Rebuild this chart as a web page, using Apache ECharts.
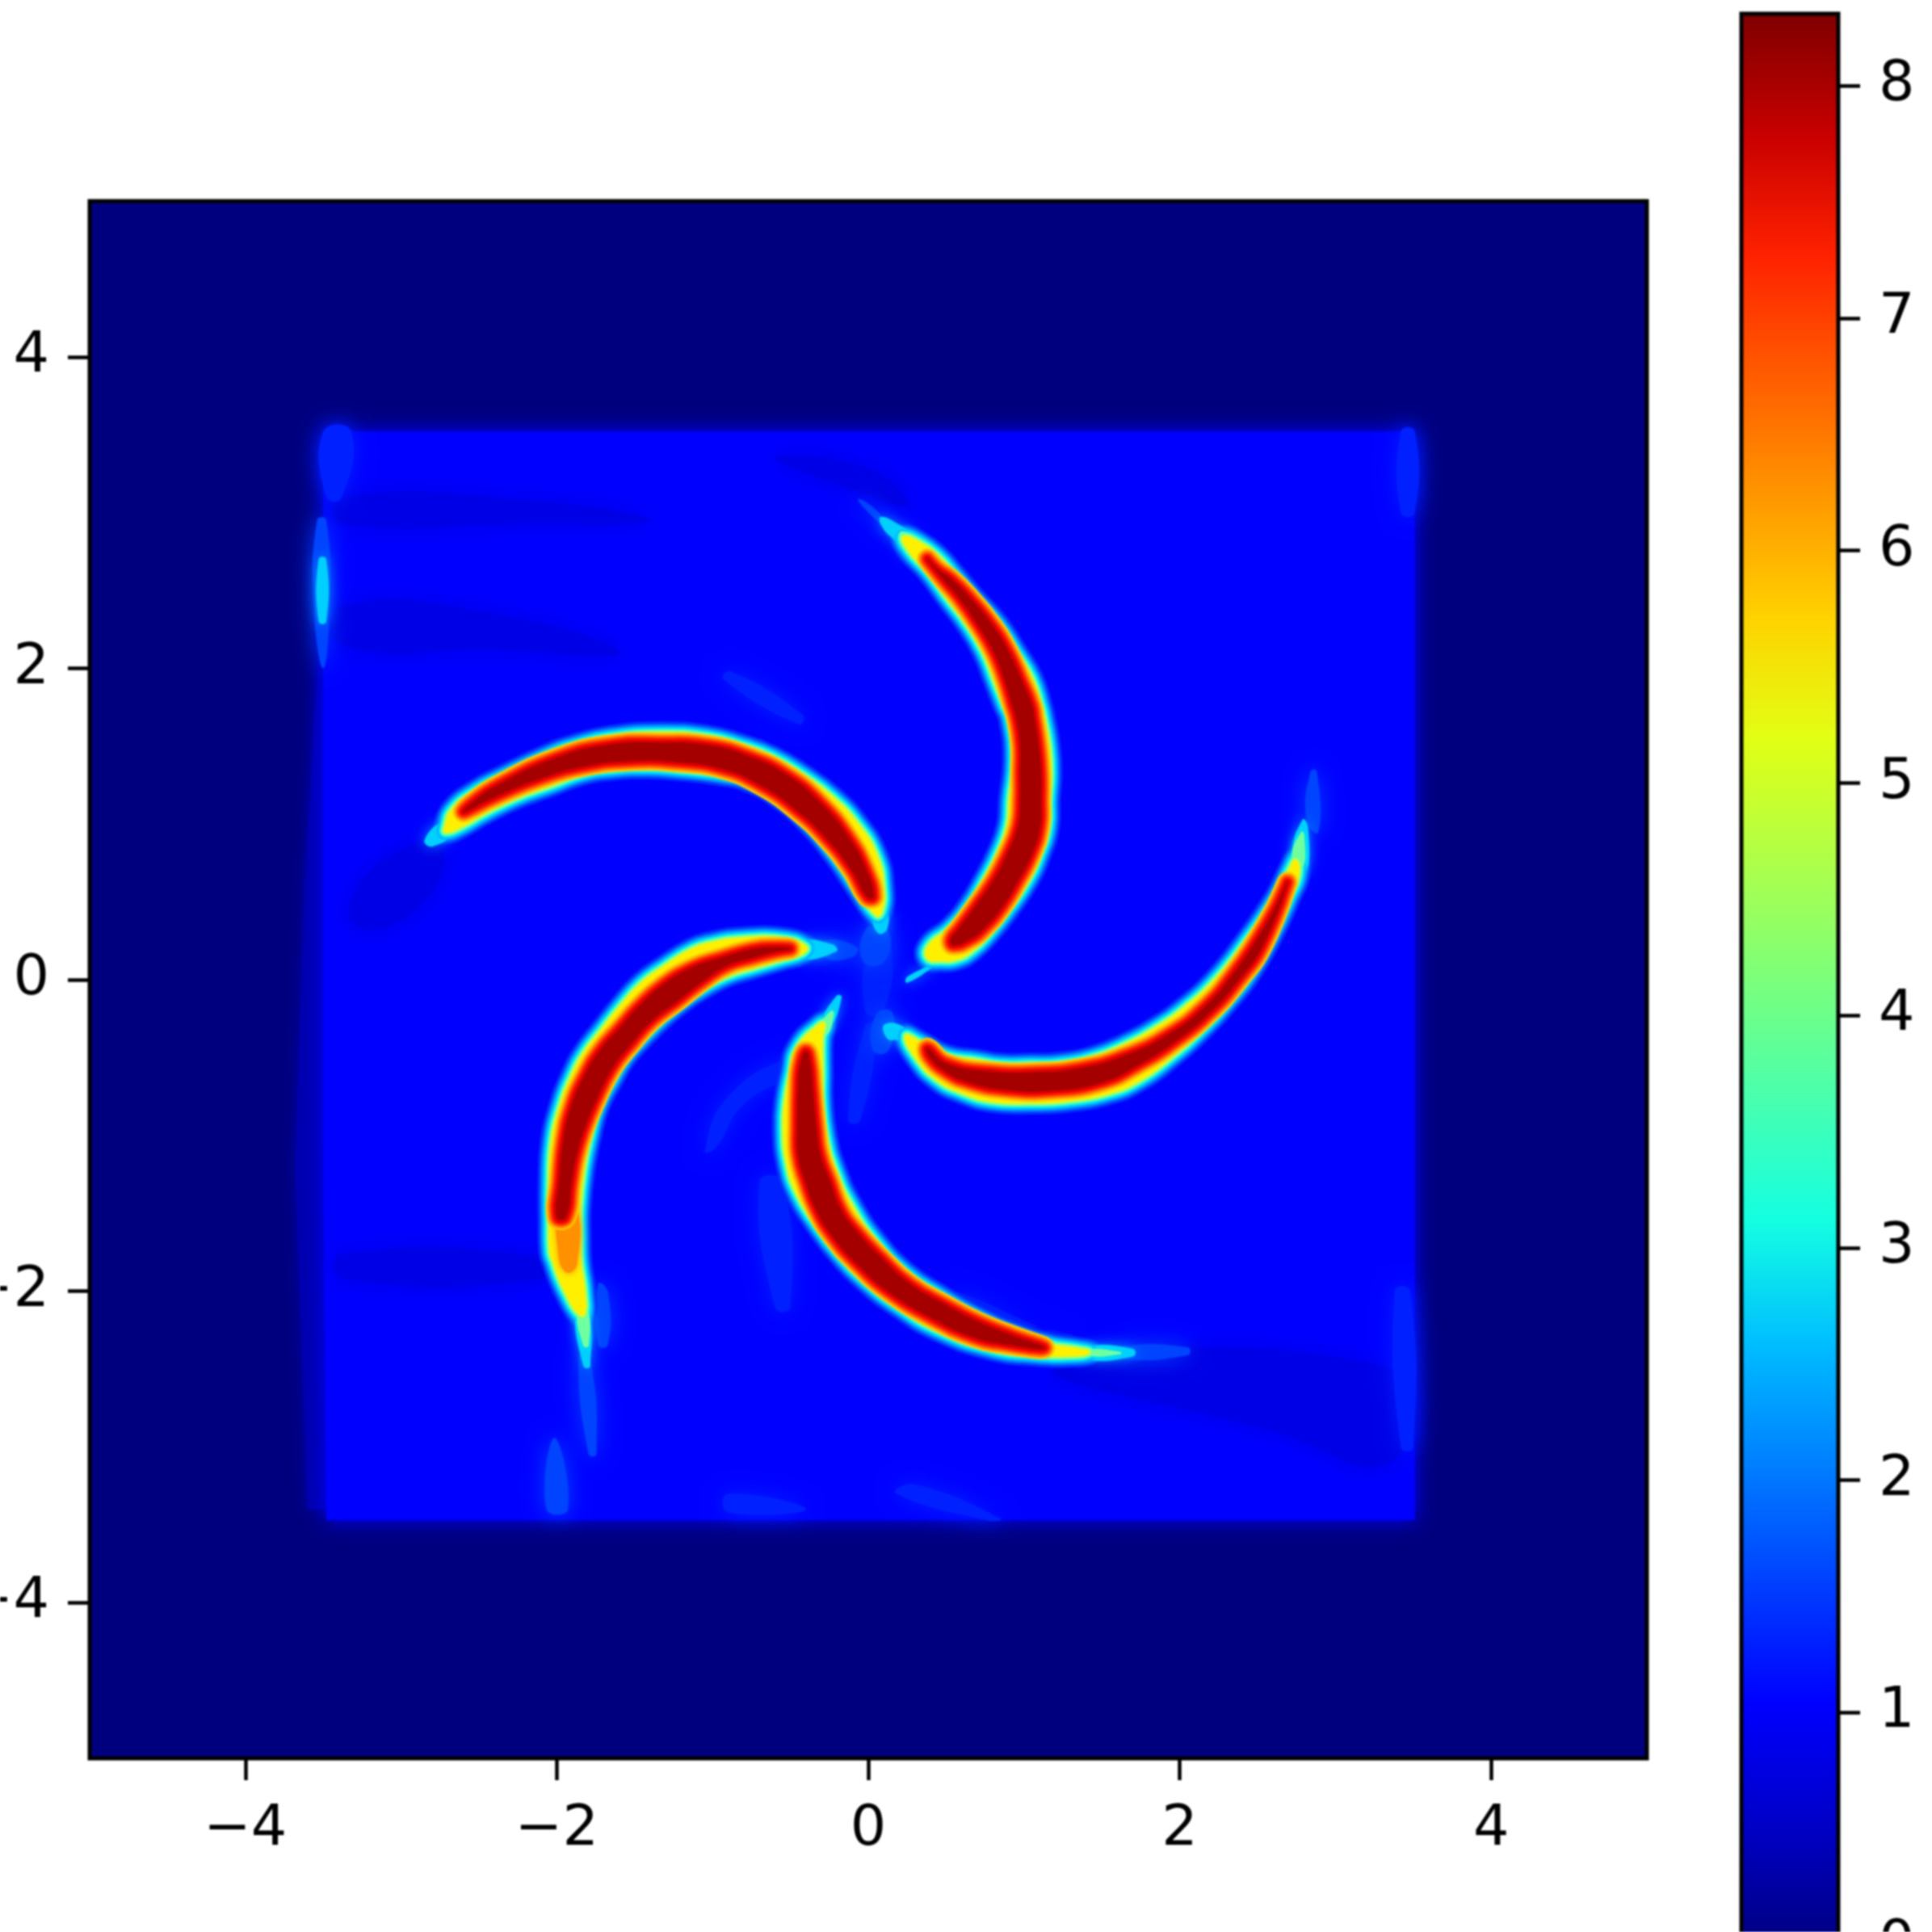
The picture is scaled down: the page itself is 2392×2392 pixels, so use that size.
<!DOCTYPE html>
<html><head><meta charset="utf-8">
<script src="https://cdn.jsdelivr.net/npm/echarts@6/dist/echarts.min.js"></script>
<style>html,body{margin:0;background:#fff}#c{width:2392px;height:2392px;filter:blur(1.2px)}</style>
</head><body><div id="c"></div>
<script>
// Tick labels
const xTicks=[-4,-2,0,2,4];
const yTicks=[-4,-2,0,2,4];
const barTicks=[0,1,2,3,4,5,6,7,8];
const barMax=8.31;
// Jet colours
const jet=['#00007f','#0000c8','#0000ff','#0040ff','#0080ff','#00bfff','#14ffe2','#48ffaf','#7bff7b','#afff48','#e2ff14','#ffd200','#ff9700','#ff5c00','#ff2100','#c80000','#7f0000'];

// Region of the flow (about level 1)
const regionEdge=[[-3.5,3.52],[3.51,3.52],[3.51,-3.47],[-3.48,-3.47],[-3.5,-1],[-3.5,1.5]];
const dimLeft=[[-3.68,-1.2],[-3.62,0.6],[-3.5,2.6],[-3.4,-3.4],[-3.6,-3.4]];
// Slightly lower bands (under level 1)
const lowBands=[
 [[-3.38,3.10],[-2.2,3.08],[-1.4,2.95],[-2.2,2.93],[-3.38,2.93]],
 [[-3.38,2.4],[-2.4,2.35],[-1.6,2.1],[-2.4,2.12],[-3.38,2.15]],
 [[-0.6,3.35],[0,3.28],[0.25,3.05],[-0.1,3.15]],
 [[-3.38,-1.76],[-2.1,-1.78],[-2.1,-1.92],[-3.38,-1.92]],
 [[1.2,-2.5],[3.35,-2.5],[3.35,-3.1],[2.6,-2.9]],
 [[-3.2,0.7],[-2.75,0.85],[-2.9,0.45],[-3.3,0.35]]
];
// Faint streaks (about level 1.2)
const faintStreaks=[
 [[-0.93,1.93],[-0.45,1.64],[-0.42,1.70],[-0.88,1.98]],
 [[0.02,0.25],[0.14,0.25],[0.1,-0.2],[-0.02,-0.2]],
 [[3.42,3.52],[3.51,3.52],[3.51,3.0],[3.42,3.0]],
 [[3.38,-2.0],[3.48,-2.0],[3.5,-3.0],[3.42,-3.0]],
 [[-0.9,-3.30],[-0.4,-3.40],[-0.9,-3.42]],
 [[0.30,-3.24],[0.85,-3.46],[0.75,-3.47],[0.18,-3.30]],
 [[0.05,-0.3],[-0.05,-0.9],[-0.13,-0.9],[-0.02,-0.3]],
 [[-0.5,-0.5],[-0.9,-0.75],[-1.05,-1.1],[-0.98,-1.08],[-0.8,-0.8],[-0.45,-0.58]],
 [[-0.7,-1.3],[-0.6,-2.1],[-0.5,-2.1],[-0.55,-1.3]],
 [[0.55,-2.0],[1.15,-2.25],[1.3,-2.28],[0.6,-2.1]],
 [[-3.50,3.52],[-3.32,3.52],[-3.38,3.1],[-3.48,3.1]]
];
// Brighter streaks (about level 1.5)
const azureStreaks=[
 [[-3.54,2.95],[-3.48,2.95],[-3.46,2.4],[-3.50,2.0],[-3.56,2.4]],
 [[-0.065,3.086],[0.054,3.013],[0.132,2.894],[0.039,2.962]],
 [[2.814,1.027],[2.840,1.338],[2.881,1.338],[2.892,0.949]],
 [[0.054,-0.218],[0.158,-0.218],[0.132,-0.451],[0.029,-0.451]],
 [[-0.013,0.327],[0.122,0.327],[0.106,0.119],[-0.034,0.119]],
 [[-1.859,-2.422],[-1.787,-2.422],[-1.745,-3.045],[-1.797,-3.045]],
 [[-1.735,-1.955],[-1.672,-2.007],[-1.672,-2.344],[-1.735,-2.344]],
 [[-2.015,-2.941],[-1.927,-3.397],[-2.067,-3.397]],
 [[-0.283,0.249],[-0.075,0.213],[-0.101,0.145],[-0.283,0.145]],
 [[1.611,-2.360],[2.051,-2.360],[2.051,-2.412],[1.611,-2.433]]
];
// Arm tails (about level 3)
const armTails=[
 [[0.080,2.972],[0.184,2.930],[0.314,2.827],[0.262,2.713],[0.184,2.806],[0.091,2.904]],
 [[2.726,0.794],[2.788,1.027],[2.825,0.975],[2.810,0.690]],
 [[0.106,-0.285],[0.246,-0.316],[0.298,-0.436],[0.194,-0.389],[0.122,-0.379]],
 [[-2.850,0.897],[-2.731,1.011],[-2.669,0.948],[-2.798,0.856]],
 [[0.030,0.431],[0.110,0.456],[0.122,0.327],[0.060,0.301]],
 [[-1.880,-2.100],[-1.805,-2.100],[-1.785,-2.480],[-1.830,-2.480]],
 [[-0.438,0.245],[-0.231,0.228],[-0.205,0.181],[-0.438,0.135]],
 [[-0.309,-0.296],[-0.205,-0.104],[-0.170,-0.114],[-0.255,-0.322]],
 [[1.377,-2.360],[1.700,-2.370],[1.700,-2.420],[1.377,-2.435]],
 [[0.25,0.02],[0.52,0.14],[0.45,0.10],[0.25,-0.02]],
 [[-3.53,2.7],[-3.48,2.7],[-3.48,2.3],[-3.53,2.3]]
];
// Arm tips fading to about level 4.5
const armTipGlow=[
 [[0.22,2.88],[0.35,2.80],[0.30,2.74],[0.20,2.84]],
 [[2.72,0.78],[2.78,0.95],[2.80,0.93],[2.79,0.72]],
 [[1.40,-2.375],[1.62,-2.39],[1.62,-2.405],[1.40,-2.415]],
 [[-0.33,-0.33],[-0.24,-0.2],[-0.22,-0.22],[-0.27,-0.36]],
 [[-1.87,-2.1],[-1.805,-2.1],[-1.795,-2.35],[-1.83,-2.35]]
];
// Arm contours at about level 5.5
const armTopOuter=[[0.340,2.801],[0.454,2.713],[0.532,2.624],[0.677,2.453],[0.832,2.282],[0.947,2.106],[1.050,1.935],[1.107,1.763],[1.128,1.675],[1.159,1.504],[1.170,1.328],[1.159,1.157],[1.154,0.985],[1.102,0.809],[1.024,0.638],[0.910,0.467],[0.770,0.290],[0.666,0.187],[0.573,0.135],[0.469,0.124],[0.381,0.140],[0.392,0.223],[0.521,0.327],[0.641,0.467],[0.744,0.638],[0.832,0.809],[0.895,0.985],[0.910,1.157],[0.936,1.416],[0.910,1.675],[0.874,1.763],[0.807,1.935],[0.739,2.106],[0.635,2.282],[0.506,2.453],[0.381,2.624],[0.262,2.754],[0.226,2.842]];
const armRightOuter=[[0.241,-0.363],[0.329,-0.399],[0.500,-0.488],[0.692,-0.519],[0.848,-0.545],[1.040,-0.545],[1.232,-0.539],[1.460,-0.493],[1.652,-0.415],[1.844,-0.311],[2.036,-0.176],[2.228,0],[2.420,0.239],[2.612,0.519],[2.705,0.705],[2.746,0.768],[2.762,0.674],[2.705,0.534],[2.612,0.327],[2.477,0.083],[2.321,-0.124],[2.129,-0.332],[1.937,-0.503],[1.745,-0.643],[1.553,-0.726],[1.268,-0.778],[1.040,-0.788],[0.786,-0.778],[0.594,-0.721],[0.443,-0.643],[0.309,-0.503]];
const armLeftOuter=[[-2.715,0.985],[-2.674,1.089],[-2.529,1.208],[-2.363,1.297],[-2.056,1.442],[-1.870,1.509],[-1.668,1.556],[-1.341,1.582],[-1.030,1.561],[-0.827,1.509],[-0.620,1.432],[-0.418,1.312],[-0.231,1.172],[-0.070,1.001],[0.054,0.794],[0.096,0.586],[0.086,0.446],[0.054,0.415],[-0.070,0.586],[-0.210,0.794],[-0.397,1.017],[-0.578,1.172],[-0.765,1.276],[-0.967,1.323],[-1.195,1.349],[-1.403,1.364],[-1.647,1.354],[-1.834,1.323],[-2.036,1.250],[-2.264,1.167],[-2.466,1.068],[-2.611,0.985],[-2.715,0.949]];
const armLowLeftOuter=[[-0.402,0.213],[-0.558,0.265],[-0.817,0.265],[-0.993,0.239],[-1.128,0.197],[-1.320,0.078],[-1.460,-0.026],[-1.595,-0.176],[-1.719,-0.332],[-1.823,-0.467],[-1.906,-0.622],[-1.979,-0.814],[-2.031,-1.037],[-2.046,-1.297],[-2.046,-1.556],[-2.041,-1.748],[-2.020,-1.815],[-1.984,-1.919],[-1.943,-2.007],[-1.880,-2.121],[-1.828,-2.152],[-1.823,-2.007],[-1.849,-1.815],[-1.854,-1.644],[-1.854,-1.473],[-1.828,-1.214],[-1.787,-1.006],[-1.735,-0.814],[-1.647,-0.643],[-1.564,-0.503],[-1.460,-0.384],[-1.320,-0.244],[-1.180,-0.130],[-1.076,-0.062],[-0.905,0.026],[-0.734,0.078],[-0.558,0.130],[-0.423,0.171]];
const armLowRightOuter=[[-0.309,-0.285],[-0.454,-0.436],[-0.500,-0.607],[-0.532,-0.778],[-0.542,-0.954],[-0.521,-1.177],[-0.459,-1.369],[-0.345,-1.556],[-0.200,-1.748],[-0.013,-1.940],[0.189,-2.095],[0.449,-2.251],[0.786,-2.370],[1.061,-2.407],[1.341,-2.412],[1.419,-2.391],[1.341,-2.370],[1.175,-2.344],[0.967,-2.282],[0.692,-2.163],[0.449,-2.023],[0.246,-1.888],[0.060,-1.696],[-0.106,-1.452],[-0.215,-1.214],[-0.272,-1.006],[-0.298,-0.778],[-0.298,-0.607],[-0.298,-0.373],[-0.283,-0.285]];
// Interior at about level 6.5
const armOrange=[[-1.984,-1.432],[-1.880,-1.432],[-1.870,-1.826],[-1.943,-1.878],[-1.995,-1.722]];
// Arm cores at about level 7.8
const armTopCore=[[0.38,2.70],[0.443,2.635],[0.532,2.573],[0.651,2.453],[0.791,2.282],[0.900,2.106],[0.978,1.935],[1.050,1.763],[1.066,1.675],[1.092,1.504],[1.107,1.328],[1.107,1.157],[1.102,0.985],[1.050,0.809],[0.962,0.638],[0.858,0.467],[0.739,0.327],[0.651,0.259],[0.547,0.223],[0.532,0.259],[0.583,0.327],[0.687,0.467],[0.806,0.638],[0.895,0.809],[0.962,0.985],[0.978,1.157],[0.978,1.328],[0.978,1.504],[0.952,1.675],[0.926,1.763],[0.874,1.935],[0.806,2.106],[0.703,2.282],[0.583,2.453],[0.480,2.573]];
const armRightCore=[[0.501,-0.539],[0.786,-0.591],[1.076,-0.596],[1.361,-0.570],[1.652,-0.488],[1.937,-0.347],[2.165,-0.171],[2.347,0.041],[2.497,0.259],[2.612,0.456],[2.69,0.62],[2.534,0.223],[2.383,0.005],[2.197,-0.207],[1.979,-0.389],[1.745,-0.539],[1.496,-0.659],[1.170,-0.711],[0.884,-0.705],[0.651,-0.659],[0.500,-0.591],[0.392,-0.493],[0.382,-0.441]];
const armLeftCore=[[-2.60,1.08],[-2.549,1.131],[-2.404,1.234],[-1.994,1.426],[-1.647,1.509],[-1.341,1.520],[-1.030,1.504],[-0.765,1.432],[-0.521,1.312],[-0.314,1.141],[-0.127,0.913],[-0.008,0.690],[0.034,0.534],[-0.008,0.534],[-0.106,0.705],[-0.272,0.913],[-0.459,1.089],[-0.682,1.245],[-0.931,1.354],[-1.237,1.400],[-1.543,1.406],[-1.813,1.374],[-2.098,1.297],[-2.404,1.172],[-2.570,1.089]];
const armLowLeftCore=[[-0.50,0.20],[-0.594,0.207],[-0.734,0.197],[-0.957,0.135],[-1.128,0.078],[-1.320,-0.036],[-1.476,-0.176],[-1.595,-0.311],[-1.719,-0.451],[-1.823,-0.622],[-1.906,-0.814],[-1.958,-1.037],[-1.984,-1.297],[-1.999,-1.525],[-1.943,-1.525],[-1.906,-1.297],[-1.875,-1.126],[-1.823,-0.954],[-1.751,-0.778],[-1.647,-0.571],[-1.527,-0.415],[-1.387,-0.259],[-1.232,-0.140],[-1.045,0.005],[-0.905,0.093],[-0.734,0.145],[-0.594,0.182]];
const armLowRightCore=[[-0.40,-0.46],[-0.438,-0.555],[-0.449,-0.674],[-0.454,-0.954],[-0.449,-1.126],[-0.402,-1.297],[-0.335,-1.473],[-0.231,-1.644],[-0.070,-1.826],[0.137,-2.007],[0.412,-2.173],[0.672,-2.293],[0.879,-2.339],[1.13,-2.365],[0.915,-2.282],[0.708,-2.199],[0.506,-2.095],[0.267,-1.955],[0.080,-1.784],[-0.075,-1.618],[-0.179,-1.473],[-0.246,-1.297],[-0.309,-1.126],[-0.334,-0.954],[-0.360,-0.674],[-0.371,-0.555]];

const shapes=[
 {kind:'dim',pts:dimLeft},
 {kind:'base',pts:regionEdge},
 ...lowBands.map(p=>({kind:'low',pts:p})),
 ...faintStreaks.map(p=>({kind:'faint',pts:p})),
 ...azureStreaks.map(p=>({kind:'azure',pts:p})),
 ...armTails.map(p=>({kind:'tail',pts:p})),
 ...armTipGlow.map(p=>({kind:'glow',pts:p})),
 ...[armTopOuter,armRightOuter,armLeftOuter,armLowLeftOuter,armLowRightOuter].map(p=>({kind:'outer',pts:p})),
 {kind:'orange',pts:armOrange},
 ...[armTopCore,armRightCore,armLeftCore,armLowLeftCore,armLowRightCore].map(p=>({kind:'core',pts:p}))
];
// Each step has a rank: all shapes paint one colour level at a time, so neighbouring shapes merge like isolines.
const paint={
 dim:[{r:0,fill:'#0000b0',blur:16,shadow:'#0000b0'}],
 base:[{r:1,fill:'#0000ff',blur:24,shadow:'#0000ff'}],
 low:[{r:2,fill:'#0000e6',blur:24,shadow:'#0000e6'}],
 faint:[{r:3,fill:'#0020ff',blur:26,shadow:'#0020ff'}],
 azure:[{r:4,fill:'#0044ff',blur:26,shadow:'#0044ff'}],
 tail:[{r:7,fill:'#00d0ff',blur:16,shadow:'#0090ff'}],
 glow:[{r:8.5,fill:'#70ffa0',blur:10,shadow:'#00f0f0'}],
 outer:[{r:5,stroke:'#0030ff',w:30},{r:6,stroke:'#0070ff',w:24},{r:7,stroke:'#00b0ff',w:19},{r:8,stroke:'#00f0f0',w:14},{r:9,stroke:'#70ffa0',w:9.5},{r:10,stroke:'#c0ff40',w:5},{r:11,fill:'#fff000',stroke:'#fff000',w:1}],
 orange:[{r:12,fill:'#ff9000',blur:8,shadow:'#ff9000'}],
 core:[{r:13,stroke:'#ffc000',w:26},{r:14,stroke:'#ff7000',w:20},{r:15,stroke:'#ff2000',w:14},{r:16,stroke:'#e00000',w:8},{r:17,fill:'#a40000',stroke:'#a40000',w:1}]
};
const drawList=[];
shapes.forEach(s=>paint[s.kind].forEach(step=>drawList.push({s,step})));
drawList.sort((a,b)=>a.step.r-b.step.r);
function renderLayer(params,api){
 const {s,step}=drawList[params.dataIndex];
 const points=s.pts.map(p=>api.coord(p));
 const smooth=(s.kind==='base'||s.kind==='dim')?0:0.5;
 return {type:'polygon',shape:{points,smooth},silent:true,
  style:{fill:step.fill||'none',stroke:step.stroke||'none',lineWidth:step.w||0,lineJoin:'round',shadowBlur:step.blur||0,shadowColor:step.shadow||'transparent'}};
}
const font='"DejaVu Sans"';
const fmt=v=>String(v).replace('-','\u2212');
const axisBase={axisLine:{show:false,onZero:false},splitLine:{show:false},
 axisTick:{show:true,length:27,lineStyle:{color:'#000',width:4.5}}};
const chart=echarts.init(document.getElementById('c'),null,{renderer:'canvas'});
chart.setOption({
 animation:false,backgroundColor:'#fff',
 grid:[
  {left:111,top:249,width:1928,height:1928,show:true,backgroundColor:'#00007f',borderColor:'#000',borderWidth:5,containLabel:false,outerBoundsMode:'none'},
  {left:2156,top:17,width:120,height:2391,show:true,backgroundColor:'transparent',borderColor:'#000',borderWidth:5,containLabel:false,outerBoundsMode:'none',z:5}
 ],
 xAxis:[
  {...axisBase,type:'value',gridIndex:0,min:-5,max:5,
   axisTick:{...axisBase.axisTick,customValues:xTicks},
   axisLabel:{customValues:xTicks,formatter:fmt,fontFamily:font,fontSize:70,color:'#000',margin:54}},
  {type:'category',gridIndex:1,data:['c'],show:false,boundaryGap:true}
 ],
 yAxis:[
  {...axisBase,type:'value',gridIndex:0,min:-5,max:5,
   axisTick:{...axisBase.axisTick,customValues:yTicks},
   axisLabel:{customValues:yTicks,formatter:fmt,fontFamily:font,fontSize:70,color:'#000',margin:50,padding:[14,0,0,0]}},
  {...axisBase,type:'value',gridIndex:1,position:'right',min:0,max:barMax,
   axisTick:{...axisBase.axisTick,customValues:barTicks},
   axisLabel:{customValues:barTicks,fontFamily:font,fontSize:70,color:'#000',margin:50,padding:[10,0,0,0]}}
 ],
 series:[
  {type:'custom',xAxisIndex:0,yAxisIndex:0,coordinateSystem:'cartesian2d',silent:true,clip:true,
   data:drawList.map((l,i)=>[i,0]),encode:{x:0,y:1},renderItem:renderLayer},
  {type:'bar',xAxisIndex:1,yAxisIndex:1,barWidth:'100%',silent:true,data:[barMax],z:1,
   itemStyle:{color:new echarts.graphic.LinearGradient(0,1,0,0,jet.map((c,i)=>({offset:i/(jet.length-1),color:c})))}}
 ]
});
</script></body></html>
